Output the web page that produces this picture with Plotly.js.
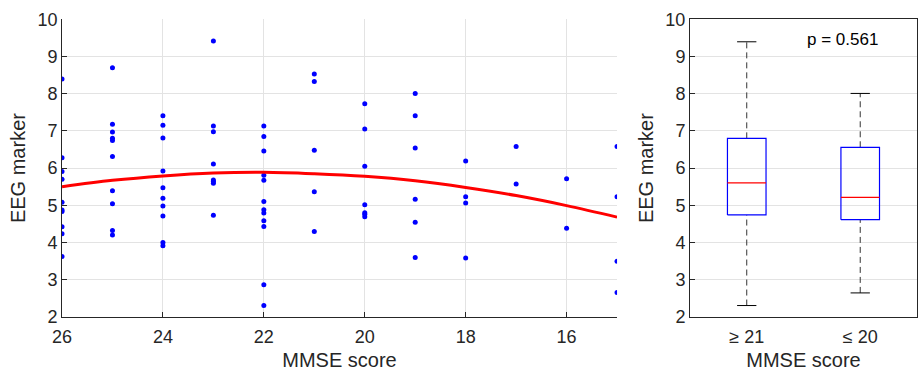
<!DOCTYPE html>
<html>
<head>
<meta charset="utf-8">
<script src="https://cdn.plot.ly/plotly-3.0.1.min.js"></script>
<style>html,body{margin:0;padding:0;background:#fff;}#chart{width:920px;height:372px;}</style>
</head>
<body>
<div id="chart"></div>
<script>
// Scatter data: MMSE score and EEG marker values
const mmse26 = [8.40, 6.28, 5.91, 5.70, 5.08, 4.87, 4.83, 4.42, 4.23, 3.62];
const mmse25 = [8.70, 7.18, 6.97, 6.80, 6.74, 6.31, 5.39, 5.04, 4.32, 4.20];
const mmse24 = [7.41, 7.15, 6.81, 5.92, 5.47, 5.19, 4.98, 4.71, 4.00, 3.91];
const mmse23 = [9.42, 7.13, 6.98, 6.11, 5.68, 5.64, 5.59, 4.73];
const mmse22 = [7.13, 6.85, 6.46, 5.81, 5.67, 5.10, 4.88, 4.79, 4.58, 4.43, 2.86, 2.30];
const mmse21 = [8.53, 8.33, 6.48, 5.36, 4.29];
const mmse20 = [7.73, 7.05, 6.05, 5.01, 4.80, 4.76, 4.69];
const mmse19 = [8.01, 7.41, 6.54, 5.16, 4.54, 3.59];
const mmse18 = [6.19, 5.23, 5.06, 3.58];
const mmse17 = [6.58, 5.57];
const mmse16 = [5.71, 4.38];
const mmse15 = [6.58, 5.23, 3.49, 2.65];
const scoreLevels = [26, 25, 24, 23, 22, 21, 20, 19, 18, 17, 16, 15];
const eegByScore = [mmse26, mmse25, mmse24, mmse23, mmse22, mmse21, mmse20, mmse19, mmse18, mmse17, mmse16, mmse15];

// Fitted curve
const fitX = [26, 25, 24, 23, 22, 21, 20, 19, 18, 17, 16, 15];
const fitY = [5.50, 5.67, 5.79, 5.87, 5.89, 5.85, 5.78, 5.66, 5.48, 5.26, 4.99, 4.68];

// Box plot statistics
const groups = ['≥ 21', '≤ 20'];
const groupPos = [1, 2];
const q1 = [4.74, 4.61];
const med = [5.60, 5.21];
const q3 = [6.80, 6.56];
const lowW = [2.30, 2.64];
const highW = [9.40, 8.01];
const pText = 'p = 0.561';

const xs = [], ys = [];
scoreLevels.forEach((s, i) => eegByScore[i].forEach(v => { xs.push(s); ys.push(v); }));

const axCol = '#262626';
const gridCol = '#e3e3e3';
const font = {family: '"Liberation Sans", Arial, sans-serif', size: 18, color: axCol};
const titleFont = {family: '"Liberation Sans", Arial, sans-serif', size: 20, color: axCol};

const traces = [
  {type: 'scatter', mode: 'markers', x: xs, y: ys, xaxis: 'x', yaxis: 'y',
   marker: {color: '#0000ff', size: 5}},
  {type: 'scatter', mode: 'lines', x: fitX, y: fitY, xaxis: 'x', yaxis: 'y',
   line: {color: '#ff0000', width: 3, shape: 'spline'}}
];

const bw = 0.34, cw = 0.17;
groupPos.forEach((p, i) => {
  traces.push({type: 'scatter', mode: 'lines', x: [p, p], y: [q3[i], highW[i]], xaxis: 'x2', yaxis: 'y2',
    line: {color: '#333333', width: 1, dash: '6px,4px'}});
  traces.push({type: 'scatter', mode: 'lines', x: [p, p], y: [lowW[i], q1[i]], xaxis: 'x2', yaxis: 'y2',
    line: {color: '#333333', width: 1, dash: '6px,4px'}});
  traces.push({type: 'scatter', mode: 'lines', x: [p - cw / 2, p + cw / 2], y: [highW[i], highW[i]], xaxis: 'x2', yaxis: 'y2',
    line: {color: '#000000', width: 1}});
  traces.push({type: 'scatter', mode: 'lines', x: [p - cw / 2, p + cw / 2], y: [lowW[i], lowW[i]], xaxis: 'x2', yaxis: 'y2',
    line: {color: '#000000', width: 1}});
  // box outline
  traces.push({type: 'scatter', mode: 'lines',
    x: [p - bw / 2, p + bw / 2, p + bw / 2, p - bw / 2, p - bw / 2],
    y: [q1[i], q1[i], q3[i], q3[i], q1[i]], xaxis: 'x2', yaxis: 'y2',
    line: {color: '#0000ff', width: 1.2}});
  // median
  traces.push({type: 'scatter', mode: 'lines', x: [p - bw / 2, p + bw / 2], y: [med[i], med[i]], xaxis: 'x2', yaxis: 'y2',
    line: {color: '#ff0000', width: 1.2}});
});

const yDom = [0.1487, 0.9476];
const layout = {
  width: 920, height: 372,
  margin: {l: 0, r: 0, t: 0, b: 0},
  paper_bgcolor: '#ffffff', plot_bgcolor: '#ffffff',
  showlegend: false,
  font: font,
  xaxis: {domain: [0.0674, 0.6707], range: [26, 15], tick0: 26, dtick: 2,
    showgrid: true, gridcolor: gridCol, zeroline: false, showline: true, linecolor: axCol, linewidth: 1,
    ticks: 'inside', ticklen: 5, tickcolor: axCol, anchor: 'y', automargin: false, ticklabelstandoff: 4,
    title: {text: 'MMSE score', font: titleFont, standoff: 6}},
  yaxis: {domain: yDom, range: [2, 10], dtick: 1, showgrid: true, gridcolor: gridCol, zeroline: false,
    showline: true, linecolor: axCol, linewidth: 1, ticks: 'inside', ticklen: 5, tickcolor: axCol,
    anchor: 'x', automargin: false,
    title: {text: 'EEG marker', font: titleFont, standoff: 6}},
  xaxis2: {domain: [0.75, 0.9967], range: [0.5, 2.5], tickvals: groupPos, ticktext: groups,
    showgrid: false, zeroline: false, showline: true, mirror: true, linecolor: axCol, linewidth: 1,
    ticks: '', anchor: 'y2', automargin: false, ticklabelstandoff: 4,
    title: {text: 'MMSE score', font: titleFont, standoff: 6}},
  yaxis2: {domain: yDom, range: [2, 10], dtick: 1, showgrid: true, gridcolor: gridCol, zeroline: false,
    showline: true, mirror: true, linecolor: axCol, linewidth: 1, ticks: 'inside', ticklen: 5, tickcolor: axCol,
    anchor: 'x2', automargin: false,
    title: {text: 'EEG marker', font: titleFont, standoff: 6}},
  annotations: [{xref: 'x2', yref: 'y2', x: 1.84, y: 9.46, text: pText, showarrow: false,
    font: {family: '"Liberation Sans", Arial, sans-serif', size: 17, color: '#000000'}}]
};

Plotly.newPlot('chart', traces, layout, {displayModeBar: false, staticPlot: true});
</script>
</body>
</html>
